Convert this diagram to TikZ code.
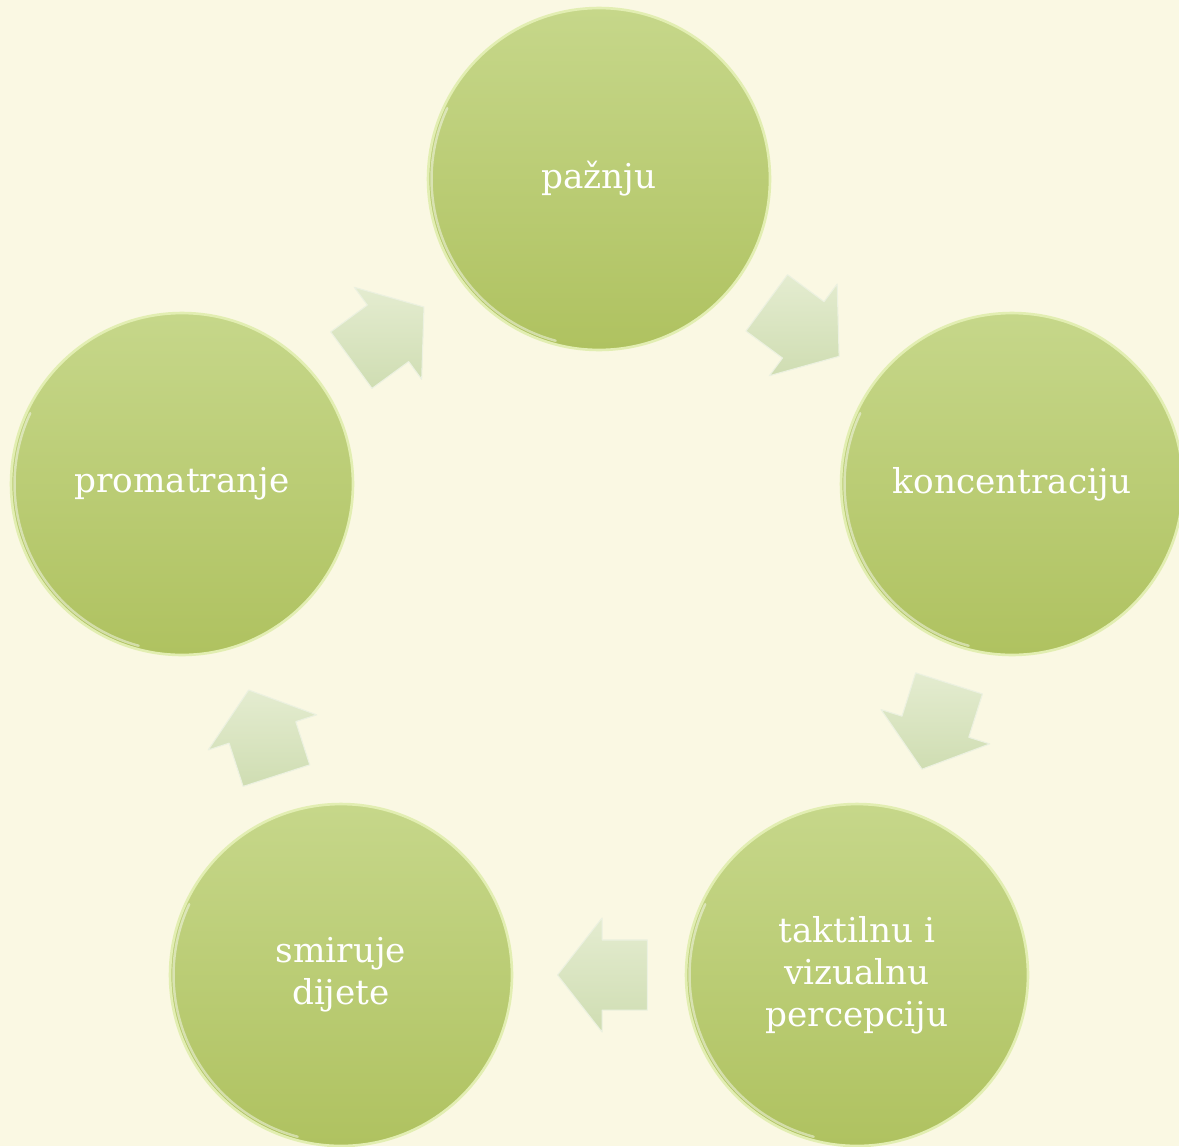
\documentclass[tikz,border=0pt]{standalone}
\usepackage{fontspec}
\setmainfont{DejaVu Serif}
\usetikzlibrary{shapes.arrows}
\definecolor{bgcream}{RGB}{250,248,227}
\definecolor{krugtop}{RGB}{198,215,138}
\definecolor{krugbot}{RGB}{175,194,96}
\definecolor{rubsvijetli}{RGB}{226,238,178}
\definecolor{strtop}{RGB}{228,236,208}
\definecolor{strbot}{RGB}{207,221,178}
\begin{document}
\begin{tikzpicture}[x=0.02cm,y=-0.02cm, font=\fontsize{19.5}{24}\selectfont, line join=round, line cap=round,
	krug/.style={circle, minimum size=6.84cm, inner sep=0pt, top color=krugtop, bottom color=krugbot, draw=rubsvijetli, line width=1.5pt, text=white, align=center},
	strelica/.style={single arrow, minimum height=1.8cm, inner xsep=0pt, inner ysep=0.69cm, single arrow head extend=0.44cm, single arrow tip angle=104, top color=strtop, bottom color=strbot, draw=white!60!strbot, line width=0.6pt, sloped, allow upside down, pos=0.4}]
	\useasboundingbox (0,0) rectangle (1179,1146);
	\fill[bgcream] (0,0) rectangle (1179,1146);
	\path (599,179) node[krug] (paz) {pažnju}
	(1012,484) node[krug] (konc) {koncentraciju}
	(857,975) node[krug] (takt) {taktilnu i\\vizualnu\\percepciju}
	(341,975) node[krug] (smir) {smiruje\\dijete}
	(182,484) node[krug] (prom) {promatranje};
	\foreach \n in {paz,konc,takt,smir,prom} \draw[white, opacity=.45, line width=1.4pt] ([shift={(155:3.35cm)}]\n.center) arc (155:255:3.35cm);
	\foreach \a/\b in {prom/paz,paz/konc,konc/takt,takt/smir,smir/prom} \path (\a) -- node[strelica] (s\a) {} (\b);
\end{tikzpicture}
\end{document}
